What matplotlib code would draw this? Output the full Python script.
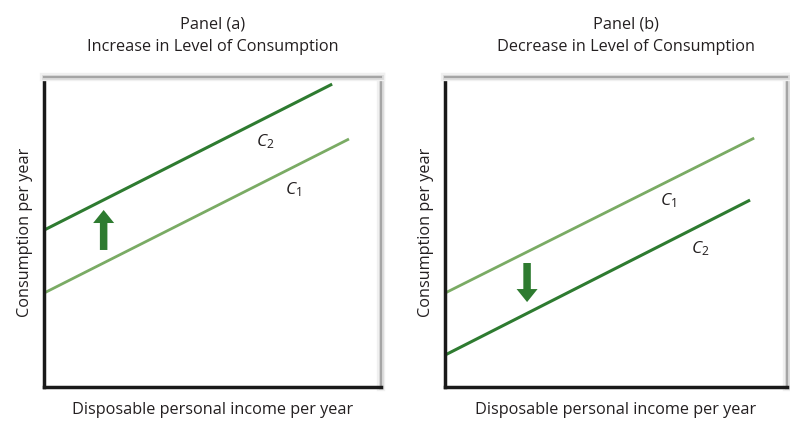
import matplotlib
matplotlib.use("Agg")
import matplotlib.pyplot as plt
import matplotlib.patheffects as pe

plt.rcParams["font.family"] = ["Open Sans", "DejaVu Sans"]
plt.rcParams["mathtext.fontset"] = "custom"
plt.rcParams["mathtext.rm"] = "Open Sans"
plt.rcParams["mathtext.it"] = "Open Sans:italic"

# Line endpoints in data units (axes run 0..10 on both scales)
a_c1_x = [0.0, 9.05]
a_c1_y = [3.03, 8.0]
a_c2_x = [0.0, 8.55]
a_c2_y = [5.06, 9.77]
b_c1_x = [0.0, 9.04]
b_c1_y = [3.03, 8.03]
b_c2_x = [0.0, 8.92]
b_c2_y = [1.03, 6.03]

# shift arrows: (x, tail y, tip y)
a_arrow = (1.77, 4.42, 5.71)
b_arrow = (2.40, 4.00, 2.74)

# curve labels: (x, y)
a_lbl_c2 = (6.3, 7.75)
a_lbl_c1 = (7.15, 6.2)
b_lbl_c1 = (6.3, 5.85)
b_lbl_c2 = (7.2, 4.3)

titles = ["Panel (a)\nIncrease in Level of Consumption",
          "Panel (b)\nDecrease in Level of Consumption"]
xlabel = "Disposable personal income per year"
ylabel = "Consumption per year"

DARK = "#2e7b30"
LIGHT = "#7aab64"
TXT = "#231f20"
FS = 11.7

fig = plt.figure(figsize=(7.9, 4.21), dpi=100)
ax_a = fig.add_axes([44 / 790, 1 - 387 / 421, 337 / 790, 310 / 421])
ax_b = fig.add_axes([445 / 790, 1 - 387 / 421, 342 / 790, 310 / 421])

# soft grey shadow on the top / right edges of each frame
shadow = [pe.withStroke(linewidth=6, foreground="#f0f0f0"),
          pe.withStroke(linewidth=3.5, foreground="#dcdcdc"), pe.Normal()]


def style(ax, title, title_x):
    ax.set_xlim(0, 10)
    ax.set_ylim(0, 10)
    ax.set_xticks([])
    ax.set_yticks([])
    for side in ["left", "bottom"]:
        ax.spines[side].set_linewidth(2.5)
        ax.spines[side].set_color("#1a1a1a")
    for side in ["top", "right"]:
        ax.spines[side].set_linewidth(1.5)
        ax.spines[side].set_color("#a5a5a5")
        ax.spines[side].set_path_effects(shadow)
    ax.set_xlabel(xlabel, fontsize=FS, color=TXT, labelpad=11)
    ax.set_ylabel(ylabel, fontsize=FS, color=TXT, labelpad=8)
    ax.text(title_x, 1.07, title, transform=ax.transAxes, ha="center",
            va="bottom", fontsize=FS, color=TXT, linespacing=1.55)


def arrow(ax, spec, px_x):
    x, y0, y1 = spec
    ax.arrow(x, y0, 0, y1 - y0, width=7.5 * px_x, head_width=21 * px_x,
             head_length=0.42, length_includes_head=True, color=DARK, lw=0)


style(ax_a, titles[0], 0.5)
ax_a.plot(a_c2_x, a_c2_y, color=DARK, lw=2.2, solid_capstyle="butt")
ax_a.plot(a_c1_x, a_c1_y, color=LIGHT, lw=2.0, solid_capstyle="butt")
arrow(ax_a, a_arrow, 10 / 337)
ax_a.text(*a_lbl_c2, r"$C_{\mathrm{2}}$", fontsize=12.5, color=TXT)
ax_a.text(*a_lbl_c1, r"$C_{\mathrm{1}}$", fontsize=12.5, color=TXT)

style(ax_b, titles[1], 0.53)
ax_b.plot(b_c1_x, b_c1_y, color=LIGHT, lw=2.0, solid_capstyle="butt")
ax_b.plot(b_c2_x, b_c2_y, color=DARK, lw=2.2, solid_capstyle="butt")
arrow(ax_b, b_arrow, 10 / 342)
ax_b.text(*b_lbl_c1, r"$C_{\mathrm{1}}$", fontsize=12.5, color=TXT)
ax_b.text(*b_lbl_c2, r"$C_{\mathrm{2}}$", fontsize=12.5, color=TXT)

fig.savefig("out.png", dpi=100, facecolor="white")
